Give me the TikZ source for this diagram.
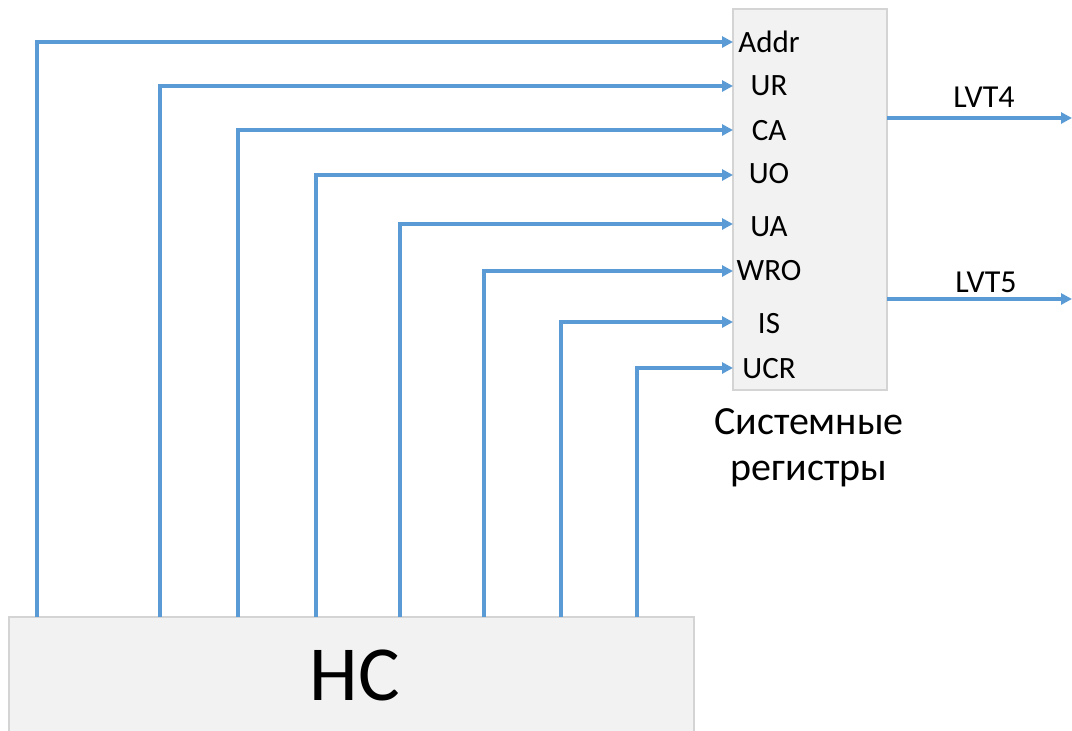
\documentclass[tikz,border=0pt]{standalone}
\usepackage{fontspec}
\setmainfont{Carlito}
\usetikzlibrary{arrows.meta}
\definecolor{wireblue}{HTML}{5B9BD5}
\definecolor{boxfill}{HTML}{F2F2F2}
\definecolor{boxline}{HTML}{D4D4D4}
\tikzset{
  wire/.style={draw=wireblue, line width=3.2pt, -{Triangle[length=11pt,width=11pt]}},
  block/.style={fill=boxfill, draw=boxline, line width=1.2pt},
  pin/.style={font=\fontsize{31}{34}\selectfont, anchor=base, inner sep=0pt},
  outlabel/.style={font=\fontsize{32}{36}\selectfont, anchor=base, inner sep=0pt},
  caption/.style={font=\fontsize{40}{46}\selectfont, anchor=base, inner sep=0pt},
}
\begin{document}
\begin{tikzpicture}[x=1pt, y=-1pt]
  \useasboundingbox (0,0) rectangle (1072,731);

  % blocks
  \path[block] (733,9) rectangle (887,390);
  \path[block] (9,617) rectangle (694,745);
  \node[font=\fontsize{78}{90}\selectfont, anchor=base, inner sep=0pt] (hc) at (355,700) {HC};
  \coordinate (hctop) at (9,617);

  % register inputs
  \node[pin] (lAddr) at (769,52) {Addr};
  \node[pin] (lUR)   at (769,95) {UR};
  \node[pin] (lCA)   at (769,140) {CA};
  \node[pin] (lUO)   at (769,183) {UO};
  \node[pin] (lUA)   at (769,236) {UA};
  \node[pin] (lWRO)  at (769,280) {WRO};
  \node[pin] (lIS)   at (769,333) {IS};
  \node[pin] (lUCR)  at (769,378) {UCR};

  \coordinate (pAddr) at (733,42);
  \coordinate (pUR)   at (733,86);
  \coordinate (pCA)   at (733,130);
  \coordinate (pUO)   at (733,175);
  \coordinate (pUA)   at (733,224);
  \coordinate (pWRO)  at (733,271);
  \coordinate (pIS)   at (733,322);
  \coordinate (pUCR)  at (733,368);

  % wires from the HC block to the registers
  \draw[wire] ([xshift=28pt]hctop) |- (pAddr);
  \draw[wire] ([xshift=151pt]hctop) |- (pUR);
  \draw[wire] ([xshift=229pt]hctop) |- (pCA);
  \draw[wire] ([xshift=307pt]hctop) |- (pUO);
  \draw[wire] ([xshift=391pt]hctop) |- (pUA);
  \draw[wire] ([xshift=475pt]hctop) |- (pWRO);
  \draw[wire] ([xshift=552pt]hctop) |- (pIS);
  \draw[wire] ([xshift=628pt]hctop) |- (pUCR);

  % outputs
  \coordinate (o4a) at (887,118);
  \coordinate (o4b) at (1072,118);
  \coordinate (o5a) at (887,299);
  \coordinate (o5b) at (1072,299);
  \draw[wire] (o4a) -- (o4b);
  \draw[wire] (o5a) -- (o5b);
  \node[outlabel] (lvt4) at (984,107) {LVT4};
  \node[outlabel] (lvt5) at (986,292) {LVT5};

  % caption under the register block
  \node[caption] (cap1) at (809,434) {Системные};
  \node[caption] (cap2) at (809,480) {регистры};
\end{tikzpicture}
\end{document}
